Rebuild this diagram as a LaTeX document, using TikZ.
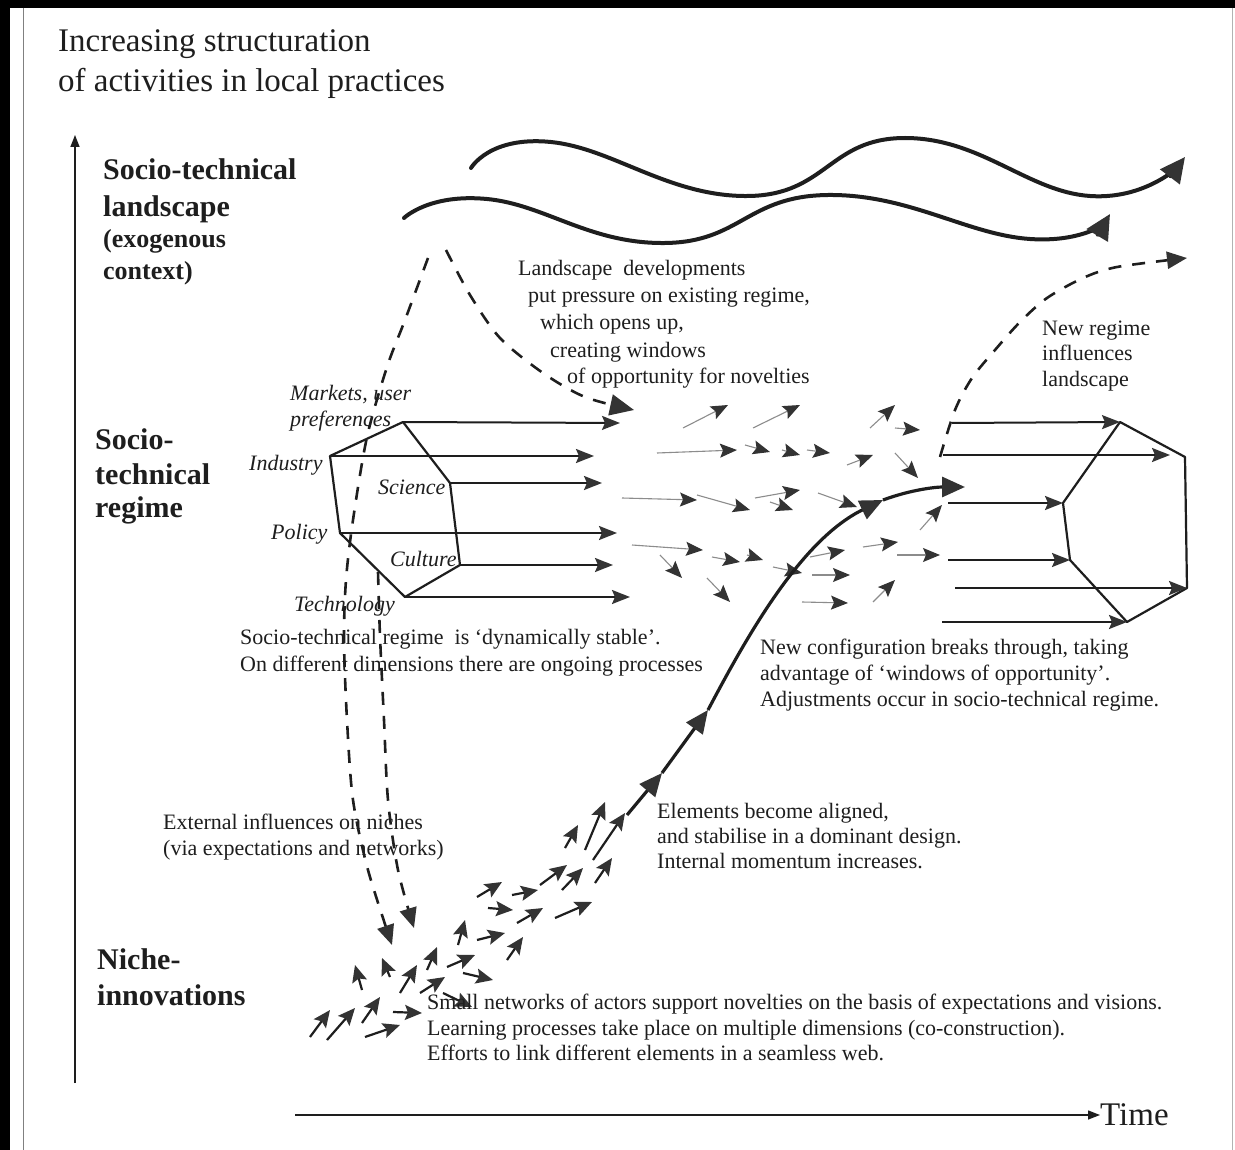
\documentclass[tikz,border=0pt]{standalone}
\usepackage{fontspec}
\setmainfont{Liberation Serif}
\usetikzlibrary{arrows.meta}
\definecolor{ink}{HTML}{1E1E1E}
\definecolor{headc}{HTML}{333333}
\definecolor{thinc}{HTML}{8C8C8C}
\tikzset{
  body/.style={font=\fontsize{22}{26}\selectfont, anchor=base west, inner sep=0pt, text=ink},
  lab/.style={font=\fontsize{22}{26}\selectfont\itshape, anchor=base west, inner sep=0pt, text=ink},
  bigl/.style={font=\fontsize{30}{34}\selectfont\bfseries, anchor=base west, inner sep=0pt, text=ink},
  midl/.style={font=\fontsize{26}{30}\selectfont\bfseries, anchor=base west, inner sep=0pt, text=ink},
  titl/.style={font=\fontsize{33}{38}\selectfont, anchor=base west, inner sep=0pt, text=ink},
  hexline/.style={line width=2.2pt, draw=ink, line join=round},
  flow/.style={line width=2pt, draw=ink, -{Stealth[length=18pt,width=14pt,inset=3pt,color=headc]}},
  mini/.style={line width=1.1pt, draw=thinc, -{Stealth[length=17pt,width=14pt,inset=3pt,color=headc]}},
  nich/.style={line width=2.2pt, draw=ink, -{Stealth[length=17pt,width=15pt,inset=3pt,color=headc]}},
  wave/.style={line width=4pt, draw=ink, line cap=round, -{Triangle[length=25pt,width=24pt,color=headc]}},
  dashflow/.style={line width=2.6pt, draw=ink, dash pattern=on 13pt off 11pt, -{Triangle[length=20pt,width=17pt,color=headc]}},
  breakline/.style={line width=3.2pt, draw=ink, -{Triangle[length=23pt,width=20pt,color=headc]}},
  axis/.style={line width=1.4pt, draw=ink, -{Triangle[length=12pt,width=9pt]}}
}
\begin{document}
\begin{tikzpicture}[x=1pt,y=-1pt]
\path[use as bounding box, fill=white] (0,0) rectangle (1235,1150);
% frame of the scan
\fill[black] (0,0) rectangle (1235,8);
\fill[black] (0,0) rectangle (10,1150);
\draw[gray, line width=1pt] (23,8) -- (23,1150);
\draw[gray!60, line width=1pt] (1232,8) -- (1232,1150);

% axes
\coordinate (vbot) at (75,1083);
\coordinate (vtop) at (75,135);
\draw[axis] (vbot) -- (vtop);
\coordinate (tleft) at (295,1115);
\node[titl, anchor=west] (time) at (1100,1115) {Time};
\draw[axis] (tleft) -- (time.west);

% titles
\node[titl] (t1) at (58,52) {Increasing structuration};
\node[titl] (t2) at (58,92) {of activities in local practices};

\node[bigl] (l1) at (103,180) {Socio-technical};
\node[bigl] (l2) at (103,217) {landscape};
\node[midl] (l3) at (103,248) {(exogenous};
\node[midl] (l4) at (103,280) {context)};

\node[bigl] (r1) at (95,449) {Socio-};
\node[bigl] (r2) at (95,484) {technical};
\node[bigl] (r3) at (95,517) {regime};

\node[bigl] (n1) at (97,969) {Niche-};
\node[bigl] (n2) at (97,1005) {innovations};

% waves (landscape)
\draw[wave] plot[smooth, tension=0.8] coordinates {(471,168) (551,142) (748,196) (905,138) (1090,196) (1185,157)};
\draw[wave] plot[smooth, tension=0.8] coordinates {(404,218) (487,199) (665,243) (828,195) (1030,239) (1110,214)};

% landscape text
\node[body] (ls1) at (518,276) {Landscape\ \ developments};
\node[body] (ls2) at (528,303) {put pressure on existing regime,};
\node[body] (ls3) at (540,330) {which opens up,};
\node[body] (ls4) at (550,358) {creating windows};
\node[body] (ls5) at (567,384) {of opportunity for novelties};

\node[body] (nr1) at (1042,336) {New regime};
\node[body] (nr2) at (1042,361) {influences};
\node[body] (nr3) at (1042,387) {landscape};

% left regime hexagon
\coordinate (hM) at (403,422);
\coordinate (hI) at (330,456);
\coordinate (hP) at (340,533);
\coordinate (hT) at (405,597);
\coordinate (hC) at (460,565);
\coordinate (hS) at (450,483);
\draw[hexline] (hM) -- (hS) -- (hC) -- (hT) -- (hP) -- (hI) -- cycle;
\coordinate (aM) at (620,423);
\coordinate (aI) at (594,456);
\coordinate (aS) at (602,483);
\coordinate (aP) at (617,533);
\coordinate (aC) at (613,565);
\coordinate (aT) at (630,597);
\draw[flow] (hM) -- (aM);
\draw[flow] (hI) -- (aI);
\draw[flow] (hS) -- (aS);
\draw[flow] (hP) -- (aP);
\draw[flow] (hC) -- (aC);
\draw[flow] (hT) -- (aT);

\node[lab] (mk1) at (290,400) {Markets, user};
\node[lab] (mk2) at (290,426) {preferences};
\node[lab] (ind) at (249,470) {Industry};
\node[lab] (sci) at (378,494) {Science};
\node[lab] (pol) at (271,539) {Policy};
\node[lab] (cul) at (390,566) {Culture};
\node[lab] (tec) at (294,611) {Technology};

% right regime hexagon
\coordinate (rT) at (1120,422);
\coordinate (rUR) at (1185,457);
\coordinate (rLR) at (1187,588);
\coordinate (rB) at (1127,622);
\coordinate (rLL) at (1070,560);
\coordinate (rUL) at (1063,503);
\draw[hexline] (rT) -- (rUR) -- (rLR) -- (rB) -- (rLL) -- (rUL) -- cycle;
\coordinate (s1) at (952,423);
\coordinate (s2) at (943,455);
\coordinate (s3) at (948,503);
\coordinate (s4) at (948,560);
\coordinate (s5) at (955,588);
\coordinate (s6) at (942,622);
\draw[flow] (s1) -- (rT);
\draw[flow] (s2) -- (1170,455);
\draw[flow] (s3) -- (rUL);
\draw[flow] (s4) -- (rLL);
\draw[flow] (s5) -- (rLR);
\draw[flow] (s6) -- (rB);

% swarm of small arrows in the regime
\foreach \xa/\ya/\xb/\yb in {
  683/428/728/405, 753/428/800/405, 870/428/895/405, 895/428/920/430,
  657/453/737/450, 745/445/770/452, 782/450/800/455, 807/450/830/453,
  847/465/873/455, 895/453/918/478,
  622/498/697/500, 697/495/750/510, 755/498/800/490, 770/502/793/510,
  818/493/857/507, 920/530/942/505,
  632/545/703/550, 660/555/682/578, 712/557/740/562, 747/555/763/560,
  773/567/802/573, 810/557/845/550, 863/547/898/542, 897/555/940/555,
  707/578/730/602, 812/575/850/575, 802/602/848/603, 873/602/895/580
}{\draw[mini] (\xa,\ya) -- (\xb,\yb);}

% niche arrows
\foreach \xa/\ya/\xb/\yb in {
  310/1037/330/1010, 327/1040/355/1008, 362/1023/380/997, 365/1037/400/1025,
  393/1012/422/1013, 443/993/472/1007, 362/990/355/965, 390/977/382/958,
  400/993/417/965, 420/993/445/977, 427/970/437/947, 447/967/475/955,
  463/973/493/980, 458/945/465/920, 477/940/505/933, 507/960/523/937,
  488/908/513/910, 477/897/502/882, 512/895/538/890, 517/923/543/908,
  540/885/567/865, 562/890/583/868, 555/918/592/902, 595/883/612/858,
  565/848/578/825, 585/850/605/802, 593/860/625/813
}{\draw[nich] (\xa,\ya) -- (\xb,\yb);}

% breakthrough trajectory
\coordinate (b0) at (627,815);
\coordinate (b1) at (662,773);
\coordinate (b2) at (708,710);
\coordinate (b3) at (883,500);
\coordinate (b4) at (965,487);
\draw[breakline] (b0) -- (b1);
\draw[breakline] (b1) -- (b2);
\draw[breakline] (b2) .. controls (745,640) and (800,540) .. (b3);
\draw[breakline] (b3) .. controls (910,490) and (935,487) .. (b4);

% dashed influences
\draw[dashflow] plot[smooth] coordinates {(428,258) (405,320) (387,367) (367,437) (353,520) (346,580) (344,640) (347,720) (353,800) (368,870) (392,945)};
\draw[dashflow] plot[smooth] coordinates {(378,572) (380,636) (384,720) (388,800) (398,870) (414,928)};
\draw[dashflow, -{Triangle[length=24pt,width=21pt,color=headc]}] plot[smooth] coordinates {(446,250) (470,295) (500,338) (543,373) (585,397) (634,410)};
\draw[dashflow] plot[smooth] coordinates {(940,457) (955,410) (972,378) (995,350) (1020,322) (1047,298) (1083,278) (1117,267) (1187,258)};

% text blocks
\node[body] (st1) at (240,644) {Socio-technical regime\ \ is ‘dynamically stable’.};
\node[body] (st2) at (240,671) {On different dimensions there are ongoing processes};

\node[body] (nc1) at (760,654) {New configuration breaks through, taking};
\node[body] (nc2) at (760,680) {advantage of ‘windows of opportunity’.};
\node[body] (nc3) at (760,706) {Adjustments occur in socio-technical regime.};

\node[body] (el1) at (657,818) {Elements become aligned,};
\node[body] (el2) at (657,843) {and stabilise in a dominant design.};
\node[body] (el3) at (657,868) {Internal momentum increases.};

\node[body] (ex1) at (163,829) {External influences on niches};
\node[body] (ex2) at (163,855) {(via expectations and networks)};

\node[body] (sm1) at (427,1009) {Small networks of actors support novelties on the basis of expectations and visions.};
\node[body] (sm2) at (427,1035) {Learning processes take place on multiple dimensions (co-construction).};
\node[body] (sm3) at (427,1060) {Efforts to link different elements in a seamless web.};
\end{tikzpicture}
\end{document}
